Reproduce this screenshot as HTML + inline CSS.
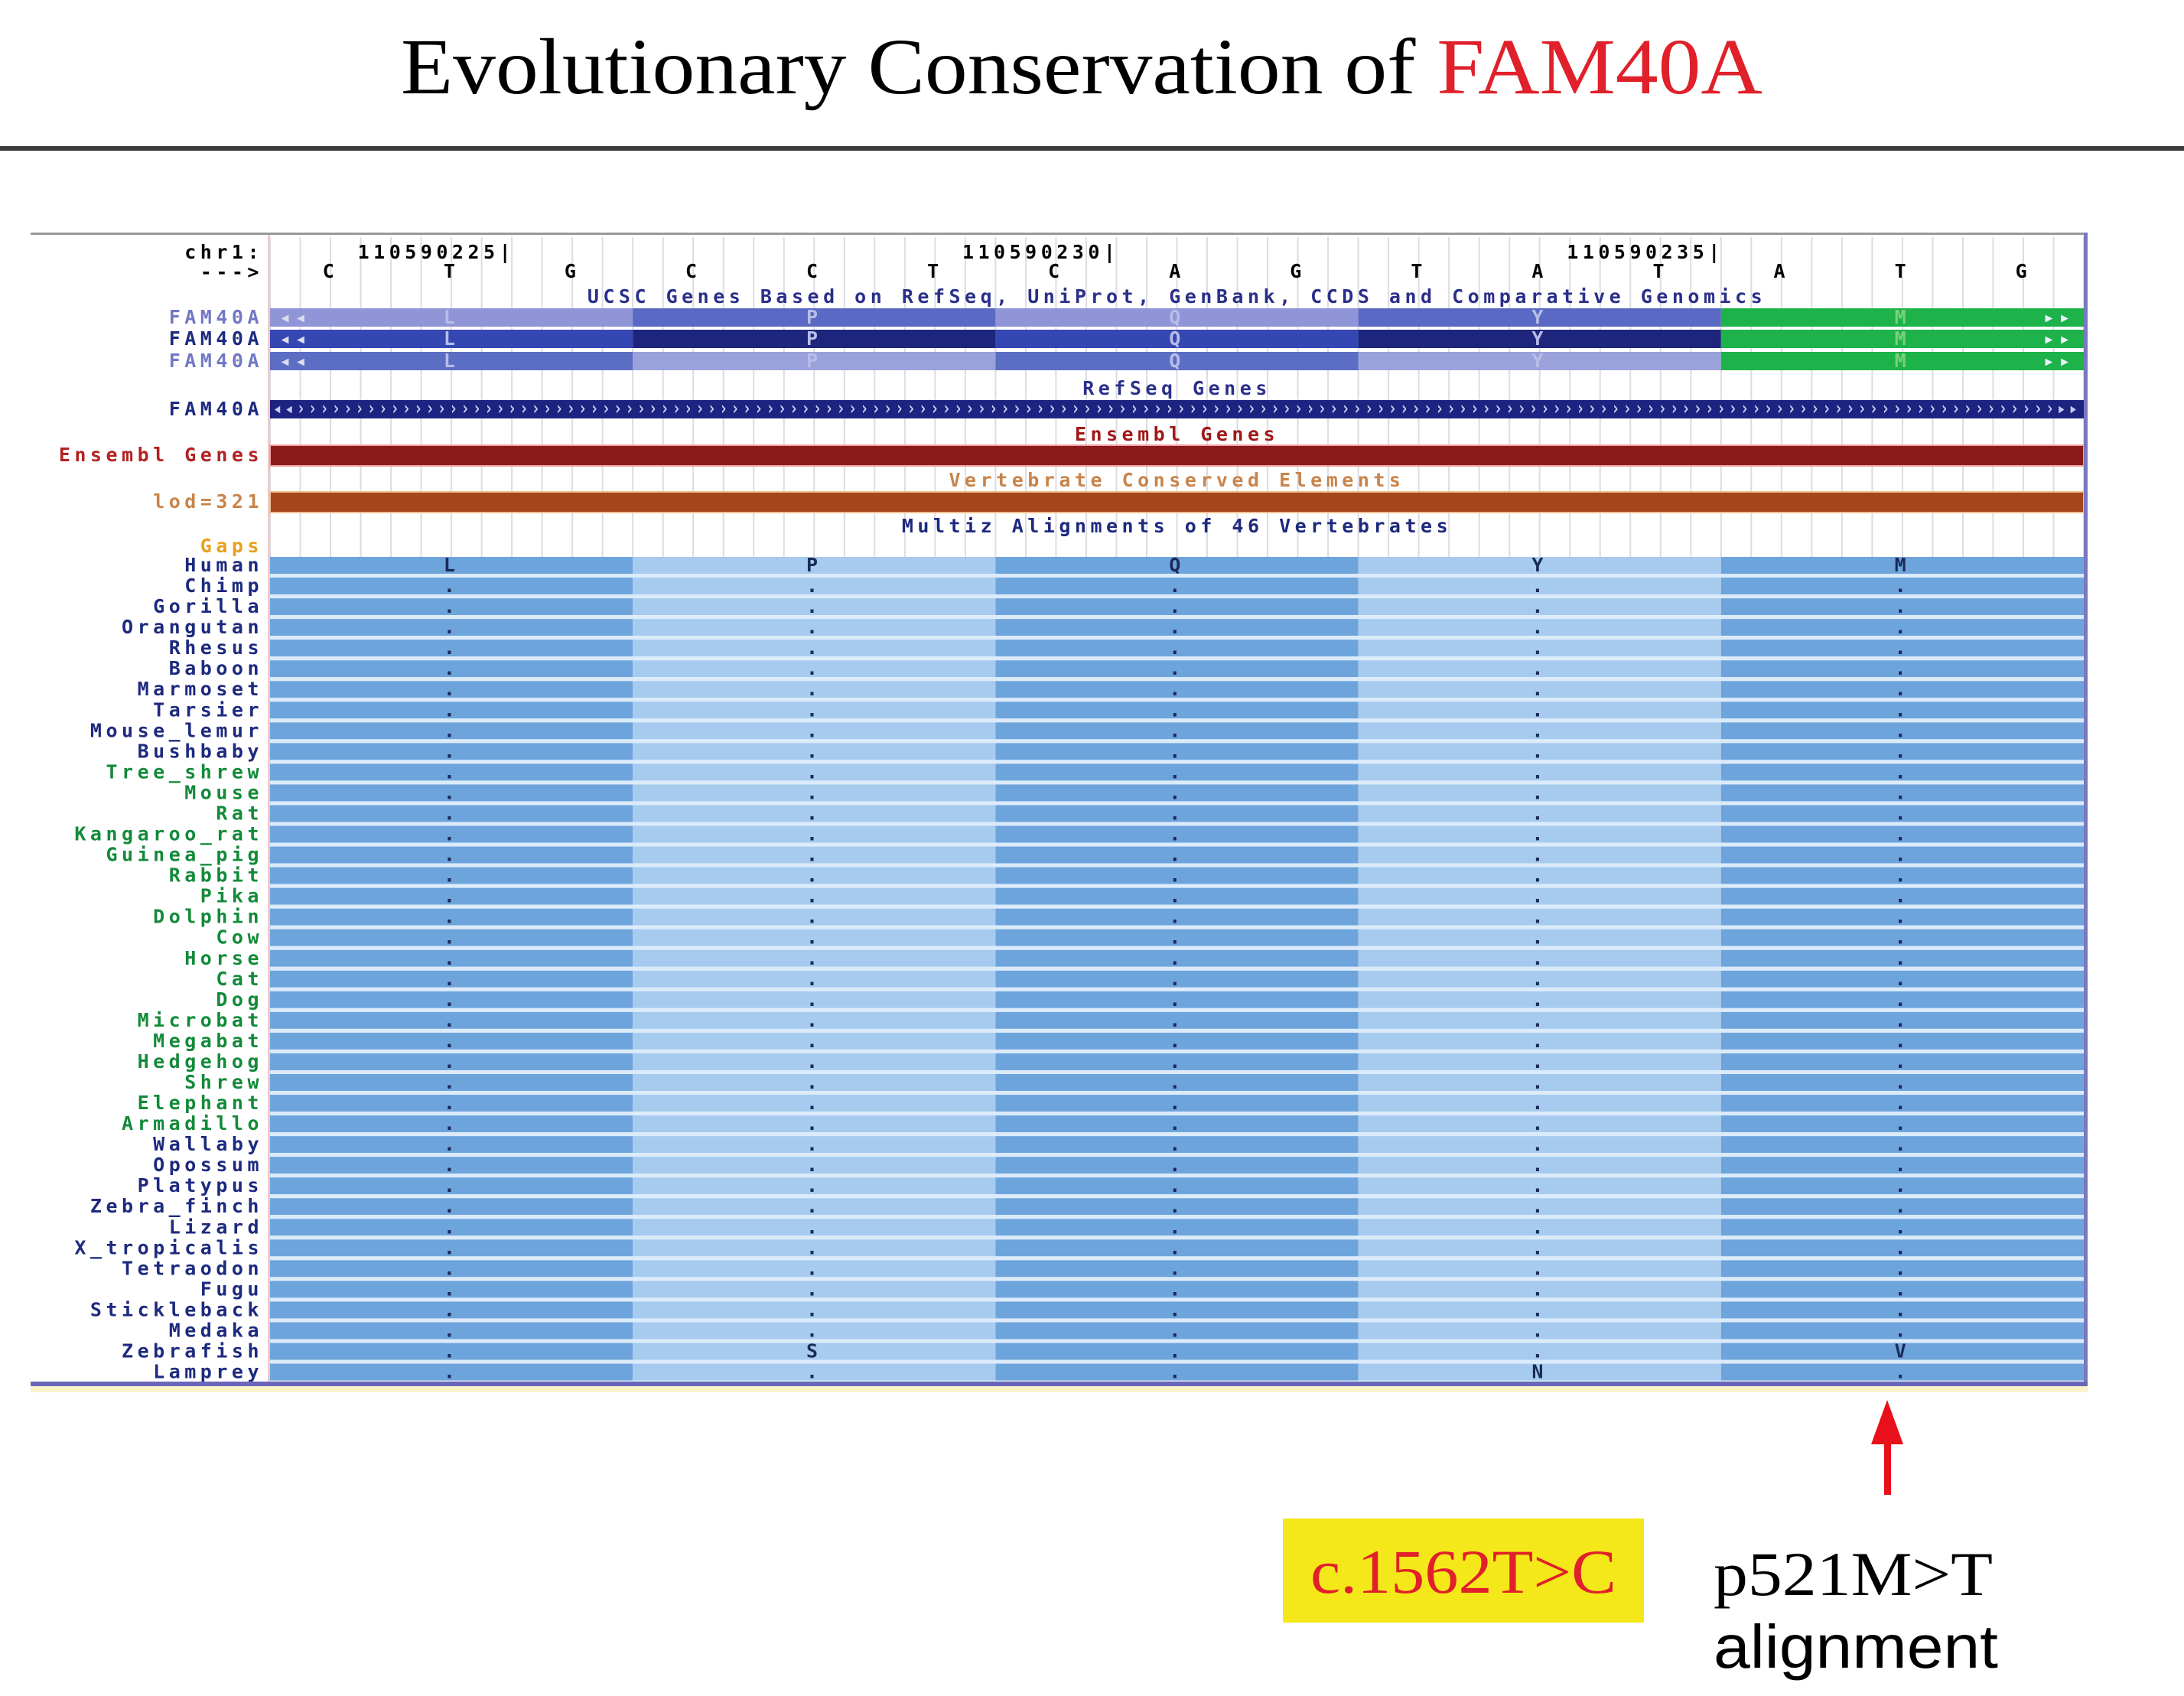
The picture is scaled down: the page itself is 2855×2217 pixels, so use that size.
<!DOCTYPE html>
<html><head><meta charset="utf-8"><style>
html,body{margin:0;padding:0;background:#fff}
svg{display:block}
.lab{font-family:"DejaVu Sans Mono","Liberation Mono",monospace;font-weight:bold;font-size:25px;letter-spacing:5.5px}
</style></head><body>
<svg id="fig" width="2855" height="2217" viewBox="0 0 2855 2217" xmlns="http://www.w3.org/2000/svg">
<text x="1414" y="122" text-anchor="middle" font-family="Liberation Serif, serif" font-size="104" textLength="1780" lengthAdjust="spacingAndGlyphs"><tspan fill="#000">Evolutionary Conservation of </tspan><tspan fill="#e0202a">FAM40A</tspan></text>
<rect x="0" y="191" width="2855" height="6" fill="#3a3a3a"/>
<g id="browser"></g>
<g>
<rect x="1677" y="1985" width="472" height="136" fill="#f5e81a"/>
<text x="1913" y="2082" text-anchor="middle" font-family="Liberation Serif, serif" font-size="82" fill="#e0202a" textLength="400" lengthAdjust="spacingAndGlyphs">c.1562T&gt;C</text>
<text x="2240" y="2085" font-family="Liberation Serif, serif" font-size="82" fill="#000" textLength="365" lengthAdjust="spacingAndGlyphs">p521M&gt;T</text>
<text x="2240" y="2180" font-family="Liberation Sans, sans-serif" font-size="80" fill="#000" textLength="372" lengthAdjust="spacingAndGlyphs">alignment</text>
<rect x="2463" y="1880" width="9" height="74" fill="#e8101a"/>
<polygon points="2467,1830 2488,1888 2446,1888" fill="#e8101a"/>
</g>
</svg>
<script>
const bases = ["C","T","G","C","C","T","C","A","G","T","A","T","A","T","G"];
const codons = ["L","P","Q","Y","M"];
const species = ["Human","Chimp","Gorilla","Orangutan","Rhesus","Baboon","Marmoset","Tarsier","Mouse_lemur","Bushbaby","Tree_shrew","Mouse","Rat","Kangaroo_rat","Guinea_pig","Rabbit","Pika","Dolphin","Cow","Horse","Cat","Dog","Microbat","Megabat","Hedgehog","Shrew","Elephant","Armadillo","Wallaby","Opossum","Platypus","Zebra_finch","Lizard","X_tropicalis","Tetraodon","Fugu","Stickleback","Medaka","Zebrafish","Lamprey"];
const speciesGroup = [0,0,0,0,0,0,0,0,0,0,1,1,1,1,1,1,1,1,1,1,1,1,1,1,1,1,1,1,0,0,0,0,0,0,0,0,0,0,0,0];
const substitutions = [["Zebrafish",1,"S"],["Zebrafish",4,"V"],["Lamprey",3,"N"]];
const positionLabels = ["110590225","110590230","110590235"];
const positionBaseIdx = [1,6,11];

const NS="http://www.w3.org/2000/svg";
const G=document.getElementById('browser');
function el(tag,attrs,parent,txt){const e=document.createElementNS(NS,tag);for(const k in attrs)e.setAttribute(k,attrs[k]);if(txt!==undefined)e.textContent=txt;(parent||G).appendChild(e);return e;}
const X0=353,X1=2724,BW=(X1-X0)/bases.length;
const bx=i=>X0+BW*(i+0.5);
const cx=i=>X0+BW*3*i;
const rowY=i=>739+i*27.04;

let r=el('rect',{x:40,y:304,width:2688,height:1506,fill:'#fff'});

for(let k=0;k<=bases.length*4;k++){const x=X0+k*BW/4;let l=el('line',{x1:x,y1:310,x2:x,y2:730,stroke:'#dcdce4','stroke-width':2});
}
r=el('rect',{x:350,y:306,width:3,height:1500,fill:'#f2c8c8'});


function label(txt,y,color,name){const t=el('text',{x:344,y:y+8,'text-anchor':'end',fill:color,class:'lab'},G,txt);
return t;}
function center(txt,y,color,name){const t=el('text',{x:(X0+X1)/2,y:y+8,'text-anchor':'middle',fill:color,class:'lab'},G,txt);
}

label('chr1:',330,'#000','chr1-label');label('--->',356,'#000','strand-label');
positionLabels.forEach((p,i)=>{const x=X0+BW*(positionBaseIdx[i]+1)+4;const t=el('text',{x:x,y:338,'text-anchor':'end',class:'lab',fill:'#000'},G,p+'|');
});
bases.forEach((b,i)=>{const t=el('text',{x:bx(i),y:363,'text-anchor':'middle',class:'lab',fill:'#000'},G,b);
});
center('UCSC Genes Based on RefSeq, UniProt, GenBank, CCDS and Comparative Genomics',388,'#2a2f8a','ucsc-genes-title');

const geneRows=[{y:415,c:['#8f95d6','#5a69c4'],lc:'#7278c4'},{y:443,c:['#3447b2','#1d267c'],lc:'#1d2a7e'},{y:472,c:['#5c6dc4','#9aa2dc'],lc:'#7278c4'}];
geneRows.forEach((g,gi)=>{label('FAM40A',g.y,g.lc,'ucsc-gene-label');
codons.forEach((c,i)=>{const col=i===4?'#1db34a':g.c[i%2];const rr=el('rect',{x:cx(i),y:g.y-12,width:BW*3,height:24,fill:col});

const t=el('text',{x:cx(i)+BW*1.5,y:g.y+8,'text-anchor':'middle',class:'lab',fill:i===4?'#7bd07b':'#b8bde8'},G,c);
});
let t=el('text',{x:X0+12,y:g.y+8,class:'lab',fill:'#dde'},G,'◂◂');
t=el('text',{x:X1-12,y:g.y+8,'text-anchor':'end',class:'lab',fill:'#eef'},G,'▸▸');});

center('RefSeq Genes',508,'#2a2f8a','refseq-title');
label('FAM40A',535,'#1d2a7e','refseq-gene-label');
r=el('rect',{x:X0,y:523,width:X1-X0,height:24,fill:'#1c2380'});
let ch=el('text',{x:X0+4,y:542,class:'lab',fill:'#c8cdf0',textLength:X1-X0-8,lengthAdjust:'spacingAndGlyphs'},G,'◂◂'+'›'.repeat(150)+'▸▸');


center('Ensembl Genes',568,'#a01818','ensembl-title');
label('Ensembl Genes',595,'#b22222','ensembl-label');
r=el('rect',{x:X0,y:582,width:X1-X0,height:27,fill:'#8b1a1a',stroke:'#f0a0a0','stroke-width':2});

center('Vertebrate Conserved Elements',628,'#c8844a','conserved-elements-title');
label('lod=321',656,'#c8844a','lod-label');
r=el('rect',{x:X0,y:643,width:X1-X0,height:27,fill:'#a4451c',stroke:'#f0c090','stroke-width':2});

center('Multiz Alignments of 46 Vertebrates',688,'#1d2a7e','multiz-title');
label('Gaps',714,'#e8a020','gaps-label');

species.forEach((s,si)=>{const y=rowY(si);
label(s,y,speciesGroup[si]?'#138a3a':'#1d2a7e','species-label-'+s.toLowerCase());
codons.forEach((c,i)=>{const rr=el('rect',{x:cx(i),y:y-11,width:BW*3,height:22,fill:i%2?'#a6cbef':'#6ea4dc'});

let ch2='.';if(si===0)ch2=c;substitutions.forEach(sb=>{if(sb[0]===s&&sb[1]===i)ch2=sb[2];});
const t=el('text',{x:cx(i)+BW*1.5,y:y+8,'text-anchor':'middle',class:'lab',fill:'#1a2a5a'},G,ch2);
});
const st=el('rect',{x:X0,y:y+11,width:X1-X0,height:5,fill:'#dcebfa'});
});

r=el('rect',{x:40,y:304,width:2688,height:3,fill:'#999'});
r=el('rect',{x:2724,y:304,width:5,height:1506,fill:'#7a78c0'});
r=el('rect',{x:40,y:1806,width:2689,height:6,fill:'#6a66b8'});
r=el('rect',{x:40,y:1812,width:2689,height:8,fill:'#fbf3c8'});
</script>
</body></html>
